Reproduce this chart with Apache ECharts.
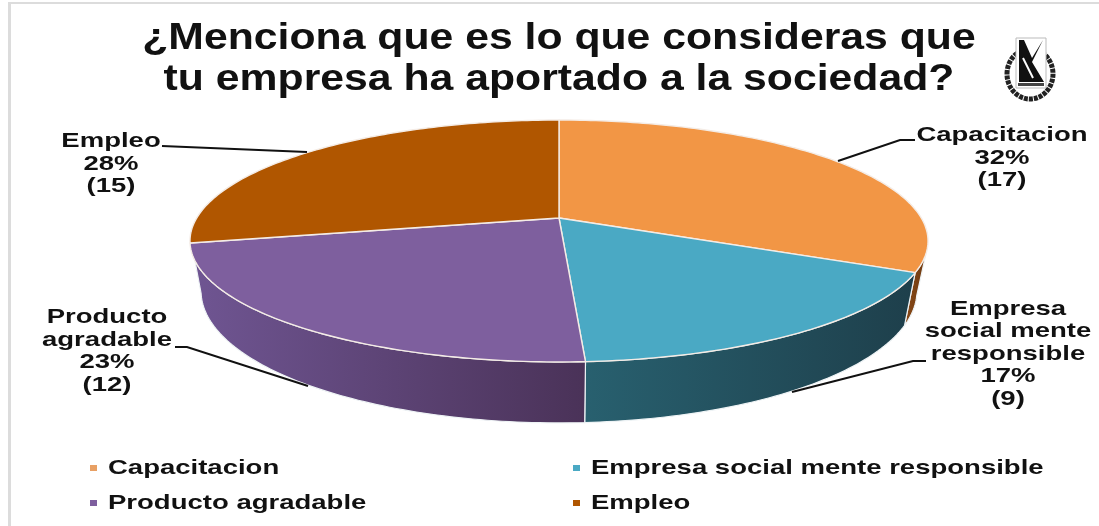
<!DOCTYPE html>
<html><head><meta charset="utf-8">
<style>html,body{margin:0;padding:0;background:#fff}#c{width:1099px;height:526px;filter:blur(0.55px)}</style>
<script src="https://cdn.jsdelivr.net/npm/echarts@6/dist/echarts.min.js"></script>
</head><body><div id="c"></div>
<script>
const titleText = "¿Menciona que es lo que consideras que\ntu empresa ha aportado a la sociedad?";
const categories = ["Capacitacion", "Empresa social mente responsible", "Producto agradable", "Empleo"];
const labelNames = ["Capacitacion", "Empresa\nsocial mente\nresponsible", "Producto\nagradable", "Empleo"];
const counts = [17, 9, 12, 15];
const percents = [32, 17, 23, 28];
const faceColors = ["#f29645", "#4aa9c4", "#7e5f9e", "#b05600"];
const wallColors = [["#8a4a18","#6e3a10"], ["#28606f","#1e3f4b"], ["#6f5592","#4a3258"], ["#7a3c00","#7a3c00"]];

// perspective of the disc
const G = {cx:559, cy:218, A:116.6, B:362.3, k:0.19};
const TOP = {sx:1, sy:1, dy:0};
const BOTTOM = {sx:0.97, sy:1.09, dy:48};
const WALL_TOP = [107, 250], WALL_BOTTOM = [103, 262];
const total = counts.reduce((a,b)=>a+b,0);
function project(deg, ring){
  const t = deg*Math.PI/180, s = Math.sin(t), c = Math.cos(t), d = 1+G.k*c;
  return [G.cx + ring.sx*G.B*s/d, G.cy + ring.dy - ring.sy*G.A*c/d];
}
function arc(a, b, ring){
  const pts = [], n = Math.max(2, Math.ceil(Math.abs(b-a)));
  for(let i=0;i<=n;i++) pts.push(project(a+(b-a)*i/n, ring));
  return pts;
}
function renderSlice(params, api){
  const idx = params.seriesIndex, v = api.value(0);
  const before = counts.slice(0, idx).reduce((a,b)=>a+b,0);
  const a0 = before/total*360, a1 = (before+v)/total*360;
  const kids = [];
  const ta = Math.max(a0, WALL_TOP[0]), tb = Math.min(a1, WALL_TOP[1]);
  const ba = Math.max(a0, WALL_BOTTOM[0]), bb = Math.min(a1, WALL_BOTTOM[1]);
  if(ta < tb){
    const pts = arc(ta, tb, TOP).concat(arc(bb, ba, BOTTOM));
    kids.push({type:'polygon', z2:1, shape:{points:pts}, style:{
      fill:new echarts.graphic.LinearGradient(0,0,1,0,[{offset:0,color:wallColors[idx][0]},{offset:1,color:wallColors[idx][1]}]),
      stroke:'#eef3f5', lineWidth:1.2}});
  }
  const face = [project(0,{sx:0,sy:0,dy:0})].concat(arc(a0,a1,TOP));
  kids.push({type:'polygon', z2:5, shape:{points:face}, style:{fill:faceColors[idx], stroke:'#f4ece6', lineWidth:1.4, lineJoin:'round'}});
  return {type:'group', children:kids};
}
const font = "Liberation Sans, Arial, sans-serif";
function txt(text, x, y, size, lh, sx){
  return {type:'text', x:x, y:y, scaleX:sx, z:20, style:{text:text, x:0, y:0, fill:'#111', fontFamily:font, fontWeight:'bold', fontSize:size, lineHeight:lh, align:'center', verticalAlign:'middle'}};
}
function lab(i){ return labelNames[i]+"\n"+percents[i]+"%\n("+counts[i]+")"; }
function line(pts){ return {type:'polyline', z:19, shape:{points:pts}, style:{stroke:'#111', lineWidth:2, fill:null}}; }
const LS = 1.31;
const legendPos = [[90,468],[573,468],[90,503],[573,503]];
const legendEls = [];
categories.forEach((name,i)=>{
  const p = legendPos[i];
  legendEls.push({type:'rect', z:20, shape:{x:p[0],y:p[1]-3,width:7,height:6}, style:{fill:faceColors[i]==='#f29645'?'#e8a064':faceColors[i]}});
  const t = txt(name, p[0]+18, p[1], 21, 22, LS);
  t.style.align='left';
  legendEls.push(t);
});
const logo = [
  {type:'ellipse', z:20, shape:{cx:1030,cy:74,rx:23,ry:25}, style:{fill:'#fff',stroke:'#222',lineWidth:5,lineDash:[4,1]}},
  {type:'rect', z:21, shape:{x:1016,y:38,width:30,height:50}, style:{fill:'#fff',stroke:'#bbb',lineWidth:1}},
  {type:'polygon', z:22, shape:{points:[[1019,40],[1024,40],[1032,58],[1043,40],[1032,62],[1044,82],[1019,82]]}, style:{fill:'#111'}},
  {type:'polyline', z:23, shape:{points:[[1023,58],[1033,78]]}, style:{stroke:'#fff',lineWidth:2,fill:null}},
  {type:'rect', z:22, shape:{x:1018,y:83,width:26,height:3}, style:{fill:'#444'}}
];
const chart = echarts.init(document.getElementById('c'), null, {width:1099, height:526});
chart.setOption({
  backgroundColor:'#fff',
  animation:false,
  series: categories.map((name,i)=>({type:'custom', name:name, coordinateSystem:'none', renderItem:renderSlice, data:[{name:name, value:[counts[i]]}], silent:true})),
  graphic:{elements:[
    {type:'rect', z:0, shape:{x:8,y:2,width:1091,height:2}, style:{fill:'#dcdcdc'}},
    {type:'rect', z:0, shape:{x:8,y:2,width:3,height:524}, style:{fill:'#dcdcdc'}},
    txt(titleText, 559, 60, 36, 41, 1.187),
    txt(lab(0), 1002, 158, 21, 22.7, LS),
    txt(lab(3), 111, 164, 21, 22.7, LS),
    txt(lab(2), 107, 351, 21, 22.5, LS),
    txt(lab(1), 1008, 354, 21, 22.4, LS),
    line([[838,161],[900,140],[915,140]]),
    line([[162,146],[307,152]]),
    line([[792,392],[913,361],[926,361]]),
    line([[175,347],[187,347],[308,386]])
  ].concat(legendEls, logo)}
});
</script></body></html>
